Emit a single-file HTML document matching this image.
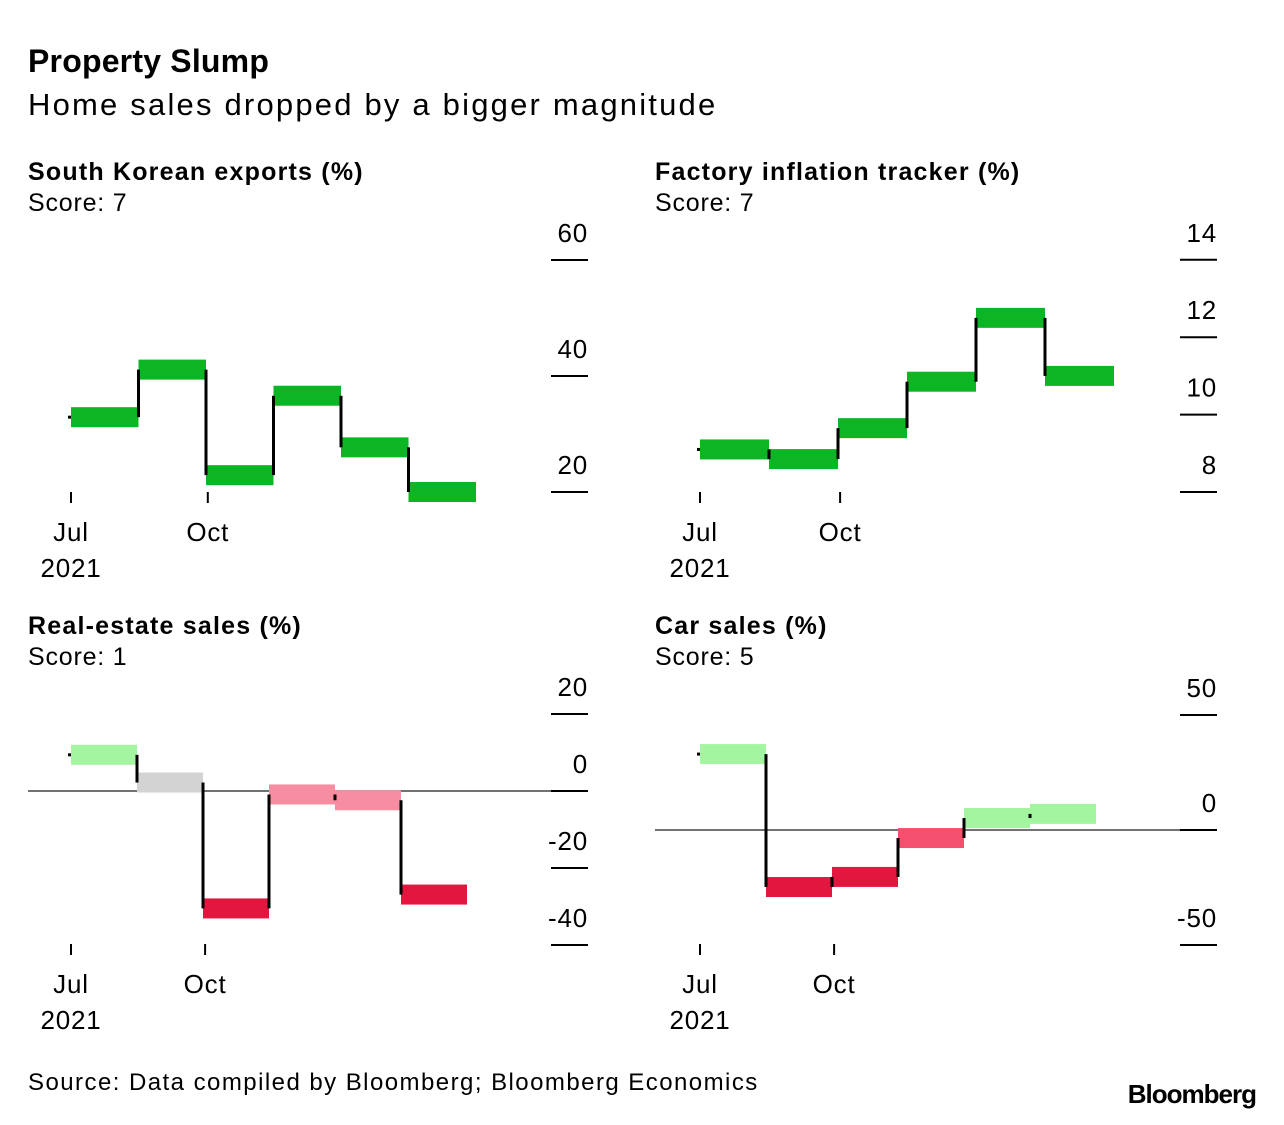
<!DOCTYPE html>
<html><head><meta charset="utf-8"><style>
body{margin:0;background:#fff;width:1284px;height:1120px;overflow:hidden}
svg text{font-family:"Liberation Sans",Arial,sans-serif;fill:#000}
</style></head><body>
<svg id="chart" width="1284" height="1120">
<text x="28" y="72" font-size="32" font-weight="bold" letter-spacing="0.2">Property Slump</text>
<text x="28" y="115" font-size="31" letter-spacing="2.2">Home sales dropped by a bigger magnitude</text>
<text x="28" y="1090" font-size="24" letter-spacing="1.45">Source: Data compiled by Bloomberg; Bloomberg Economics</text>
<text x="1256" y="1103" font-size="26" font-weight="bold" text-anchor="end" letter-spacing="-1">Bloomberg</text>
</svg>
<script>
const months = ["Jul","Aug","Sep","Oct","Nov","Dec"];
const exportsVals = [32.9, 41.1, 22.9, 36.6, 27.7, 20.0];
const factoryVals = [9.1, 8.85, 9.65, 10.85, 12.5, 11.0];
const realEstateVals = [9.4, 2.2, -30.5, -0.9, -2.4, -26.9];
const carVals = [33, -24.8, -20.4, -3.5, 5.2, 7.0];
const exportsTicks = [20, 40, 60];
const factoryTicks = [8, 10, 12, 14];
const realEstateTicks = [-40, -20, 0, 20];
const carTicks = [-50, 0, 50];
const realEstateColors = ["#a3f5a0","#d3d3d3","#e3163f","#f78da0","#f78da0","#e3163f"];
const carColors = ["#a3f5a0","#e3163f","#e3163f","#f4506d","#a3f5a0","#a3f5a0"];
const svg = document.getElementById('chart');
const NS = "http://www.w3.org/2000/svg";
function mk(tag, attrs, parent){const e=document.createElementNS(NS,tag);for(const k in attrs)e.setAttribute(k,attrs[k]);(parent||svg).appendChild(e);return e;}
function panel(p){
  const g = mk('g',{});
  
  
  const y = v => p.y0 - (v - p.v0) * p.ppu;
  const x = i => p.x0 + i * p.w;
  let t = mk('text',{x:p.tx,y:p.ty,'font-size':25,'font-weight':'bold','letter-spacing':1.2},g); t.textContent=p.title;
  
  
  t = mk('text',{x:p.tx,y:p.ty+31,'font-size':25,'letter-spacing':0.8},g); t.textContent=p.score;
  
  
  if (p.zero) { const l = mk('line',{x1:p.tx,x2:p.axR,y1:y(0),y2:y(0),stroke:'#444','stroke-width':1.5},g);
    
     }
  p.ticks.forEach(v=>{
    const l = mk('line',{x1:p.axR-37,x2:p.axR,y1:y(v),y2:y(v),stroke:'#000','stroke-width':2},g);
    
    
    const tt = mk('text',{x:p.axR,y:y(v)-18,'font-size':26,'text-anchor':'end','letter-spacing':0.8},g); tt.textContent=v;
    
    
  });
  [[0,'Jul'],[3,'Oct']].forEach(([i,lab])=>{
    const xx = p.x0 + i * p.tickW;
    const l = mk('line',{x1:xx,x2:xx,y1:p.xTickY,y2:p.xTickY+11,stroke:'#000','stroke-width':2},g);
    
    
    const tt = mk('text',{x:xx,y:p.xTickY+49,'font-size':26,'text-anchor':'middle','letter-spacing':0.8},g); tt.textContent=lab;
    
    
  });
  const yr = mk('text',{x:p.x0,y:p.xTickY+85,'font-size':26,'text-anchor':'middle','letter-spacing':0.8},g); yr.textContent='2021';
  
  
  p.vals.forEach((v,i)=>{
    const r = mk('rect',{x:x(i),y:y(v)-10,width:p.w,height:20,fill:p.colors?p.colors[i]:'#0bb523'},g);
    
    
  });
  const s = mk('line',{x1:x(0)-3,x2:x(0),y1:y(p.vals[0]),y2:y(p.vals[0]),stroke:'#000','stroke-width':3},g);
  
  
  for(let i=1;i<p.vals.length;i++){
    const l = mk('line',{x1:x(i),x2:x(i),y1:y(p.vals[i-1]),y2:y(p.vals[i]),stroke:'#000','stroke-width':3},g);
    
    
  }
}
panel({name:'exports-panel',title:'South Korean exports (%)',score:'Score: 7',tx:28,ty:180,vals:exportsVals,ticks:exportsTicks,
  v0:20,y0:492,ppu:5.8,x0:71,w:67.5,tickW:45.6,axR:588,xTickY:492});
panel({name:'factory-panel',title:'Factory inflation tracker (%)',score:'Score: 7',tx:655,ty:180,vals:factoryVals,ticks:factoryTicks,
  v0:8,y0:492,ppu:38.7,x0:700,w:69,tickW:46.7,axR:1217,xTickY:492});
panel({name:'real-estate-panel',title:'Real-estate sales (%)',score:'Score: 1',tx:28,ty:634,vals:realEstateVals,ticks:realEstateTicks,colors:realEstateColors,
  v0:0,y0:791,ppu:3.85,x0:71,w:66,tickW:44.7,axR:588,xTickY:944,zero:true});
panel({name:'car-sales-panel',title:'Car sales (%)',score:'Score: 5',tx:655,ty:634,vals:carVals,ticks:carTicks,colors:carColors,
  v0:0,y0:830,ppu:2.3,x0:700,w:66,tickW:44.7,axR:1217,xTickY:944,zero:true});
</script>
</body></html>
